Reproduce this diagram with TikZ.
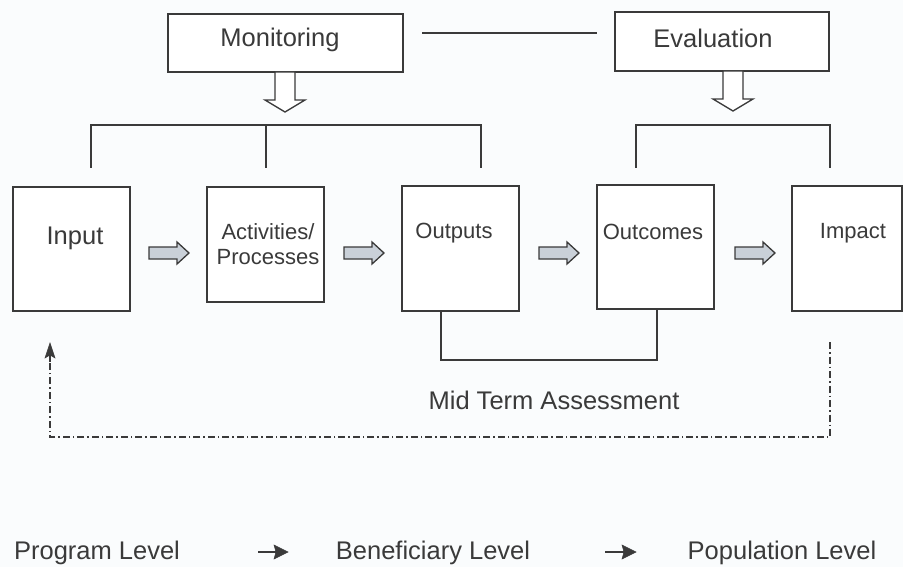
\documentclass[tikz,border=0pt]{standalone}
\usepackage{fontspec}
\setmainfont{Liberation Sans}
\usetikzlibrary{arrows.meta,calc}
\definecolor{ink}{HTML}{3A3A3A}
\definecolor{arrfill}{HTML}{C9D0D8}
\definecolor{bg}{HTML}{FAFCFD}
\begin{document}
\begin{tikzpicture}[x=1pt,y=-1pt,
  box/.style={draw=ink,line width=1.4pt,fill=white,inner sep=0pt},
  lab/.style={text=ink,inner sep=0pt,font=\fontsize{25.5}{29}\selectfont},
  smalllab/.style={text=ink,inner sep=0pt,align=center,font=\fontsize{22}{25}\selectfont},
  conn/.style={draw=ink,line width=1.4pt},
  blockarr/.style={draw=ink,line width=1.3pt,fill=arrfill,line join=miter},
  hollow/.style={draw=ink,line width=1.3pt,fill=white,line join=miter},
  tiphead/.style={fill=ink,draw=ink,line width=0.5pt,line join=miter},
  dashdot/.style={draw=ink,line width=1.3pt,dash pattern=on 7pt off 3pt on 1.5pt off 3pt}]
\path[fill=bg] (0,0) rectangle (903,567);
\useasboundingbox (0,0) rectangle (903,567);
% top boxes
\node[box,minimum width=235pt,minimum height=58pt] (mon) at (285.5,43) {};
\node[lab] (monT) at (280,40) {Monitoring};
\node[box,minimum width=214pt,minimum height=59pt] (eva) at (722,41.5) {};
\node[lab] (evaT) at (713,38) {Evaluation};
\coordinate (l1) at (422,33);
\coordinate (l2) at (597,33);
\draw[conn] (l1) -- (l2);
% hollow arrows
\draw[hollow] (275,72) -- (295,72) -- (295,100) -- (305,100) -- (285,112) -- (265,100) -- (275,100) -- cycle;
\draw[hollow] (723,71) -- (743,71) -- (743,99) -- (753,99) -- (733,111) -- (713,99) -- (723,99) -- cycle;
% main boxes
\node[box,minimum width=117pt,minimum height=124pt] (inp) at (71.5,249) {};
\node[lab] (inpT) at (75,238) {Input};
\node[box,minimum width=117pt,minimum height=115pt] (act) at (265.5,244.5) {};
\node[smalllab] (actT) at (268,244) {Activities/\\Processes};
\node[box,minimum width=117pt,minimum height=125pt] (out) at (460.5,248.5) {};
\node[smalllab] (outT) at (454,233) {Outputs};
\node[box,minimum width=117pt,minimum height=124pt] (oc) at (655.5,247) {};
\node[smalllab] (ocT) at (653,232) {Outcomes};
\node[box,minimum width=110pt,minimum height=125pt] (imp) at (847,248.5) {};
\node[smalllab] (impT) at (853,233) {Impact};
% brackets
\coordinate (b1a) at (91,168);
\coordinate (b1b) at (91,125);
\coordinate (b1c) at (481,125);
\coordinate (b1d) at (481,168);
\coordinate (b1e) at (266,125);
\coordinate (b1f) at (266,168);
\draw[conn] (b1a) -- (b1b) -- (b1c) -- (b1d);
\draw[conn] (b1e) -- (b1f);
\coordinate (b2a) at (636,168);
\coordinate (b2b) at (636,125);
\coordinate (b2c) at (830,125);
\coordinate (b2d) at (830,168);
\draw[conn] (b2a) -- (b2b) -- (b2c) -- (b2d);
% block arrows between boxes
\foreach \x in {149,344,539,735}{
  \draw[blockarr] (\x,247) -- (\x+28,247) -- (\x+28,242) -- (\x+40,253) -- (\x+28,264) -- (\x+28,259) -- (\x,259) -- cycle;
}
% mid term bracket
\coordinate (m1) at (441,360);
\coordinate (m2) at (657,360);
\draw[conn] (out.south -| m1) -- (m1) -- (m2) -- (oc.south -| m2);
\node[lab] (mid) at (554,400) {Mid Term Assessment};
% feedback dash-dot
\coordinate (f1) at (830,342);
\coordinate (f2) at (830,437);
\coordinate (f3) at (50,437);
\coordinate (f4) at (50,343);
\draw[dashdot] (f1) -- (f2) -- (f3) -- (50,360);
\draw[conn] (50,362) -- (50,352);
\fill[tiphead] (f4) -- (55,358) -- (50,355) -- (45,358) -- cycle;
% bottom levels
\node[lab] (pl) at (97,553) {Program Level};
\node[lab] (bl) at (433,553) {Beneficiary Level};
\node[lab] (popl) at (782,553) {Population Level};
\coordinate (a1) at (258,552);
\coordinate (a2) at (288,552);
\coordinate (a3) at (605,552);
\coordinate (a4) at (636,552);
\draw[draw=ink,line width=2.6pt] (a1) -- ($(a2)+(-8,0)$);
\fill[tiphead] (a2) -- ++(-14,-7) -- ++(2,7) -- ++(-2,7) -- cycle;
\draw[draw=ink,line width=2.6pt] (a3) -- ($(a4)+(-8,0)$);
\fill[tiphead] (a4) -- ++(-14,-7) -- ++(2,7) -- ++(-2,7) -- cycle;
\end{tikzpicture}
\end{document}
